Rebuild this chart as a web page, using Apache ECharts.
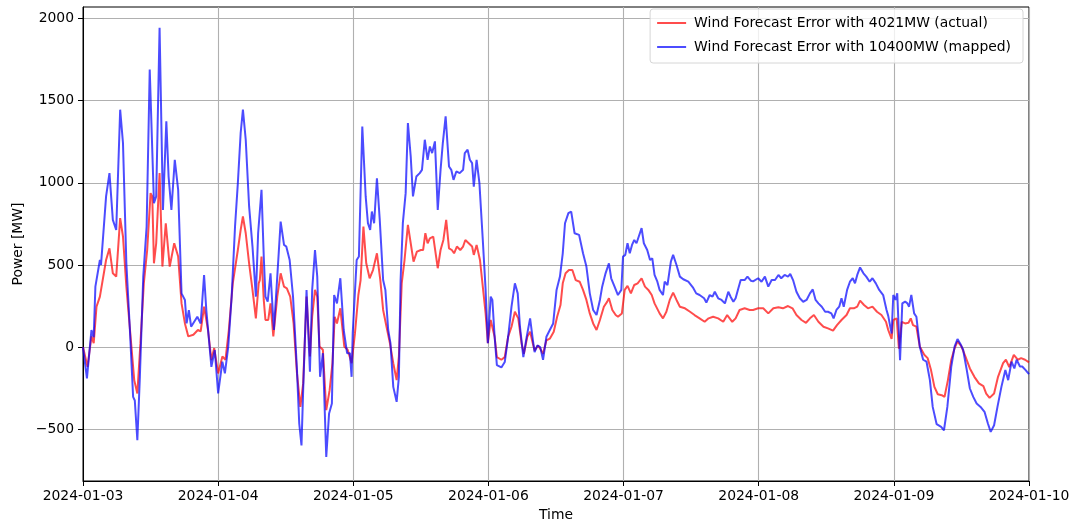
<!DOCTYPE html>
<html>
<head>
<meta charset="utf-8">
<script src="https://cdn.jsdelivr.net/npm/echarts@6/dist/echarts.min.js"></script>
<style>
html,body{margin:0;padding:0;background:#fff;}
#chart{width:1072px;height:521px;}
</style>
</head>
<body>
<div id="chart"></div>
<script>
// Tick labels for the x axis (one per day, every 24 h)
const dayLabels = ['2024-01-03','2024-01-04','2024-01-05','2024-01-06','2024-01-07','2024-01-08','2024-01-09','2024-01-10'];
const yTicks = [-500, 0, 500, 1000, 1500, 2000];

// Wind Forecast Error with 4021MW (actual): hours since 2024-01-03 00:00, MW
const redHours = [0,0.8,1.5,1.9,2.4,3.0,3.2,4.1,4.7,5.3,5.9,6.6,7.1,7.7,8.3,9.1,9.65,10.2,10.8,11.4,12.0,12.3,12.6,13.0,13.6,14.1,14.7,15.4,16.2,16.9,17.5,18.1,18.7,19.6,20.4,20.9,21.5,22.2,22.8,
23.3,24.0,24.75,25.3,25.9,26.6,27.5,28.0,28.4,28.9,29.5,30.1,30.7,31.2,31.4,31.7,32.1,32.4,32.9,33.3,33.8,34.5,35.1,35.7,36.2,36.8,37.4,38.0,38.6,39.1,39.7,40.3,40.7,41.2,41.6,42.0,42.6,43.2,43.8,44.3,44.7,45.1,45.7,46.4,47.0,47.7,
48.3,48.9,49.3,49.8,50.3,50.9,51.5,52.2,52.8,53.3,53.9,54.5,55.1,55.7,56.1,56.6,57.1,57.7,58.2,58.7,59.3,60.0,60.4,60.8,61.2,61.6,62.2,62.5,63.0,63.5,64.0,64.5,65.0,65.5,65.9,66.4,67.0,67.5,67.9,68.5,69.1,69.4,69.9,70.5,71.0,71.5,71.9,72.4,
73.1,73.5,74.3,74.9,75.5,76.1,76.7,77.3,77.9,78.3,78.9,79.4,79.9,80.2,80.8,81.2,81.7,82.3,82.9,83.6,84.2,84.8,85.2,85.7,86.3,86.9,87.5,88.2,88.8,89.4,90.0,90.6,91.2,91.8,92.5,93.1,93.4,94.0,94.6,
95.0,95.7,96.2,96.7,97.3,97.9,98.5,99.2,99.8,100.4,101.0,101.5,102.4,103.0,103.6,104.2,104.8,105.4,106.0,106.9,107.8,108.6,109.5,110.4,111.1,111.9,112.8,113.7,114.4,115.3,115.9,116.6,117.5,118.4,
119.0,119.9,120.8,121.7,122.6,123.5,124.3,125.2,126.0,126.7,127.6,128.4,129.1,129.8,130.6,131.5,132.3,133.2,133.9,134.7,135.6,136.2,136.9,137.5,138.0,138.7,139.4,140.2,141.0,141.8,142.6,
143.0,143.6,143.9,144.5,144.9,145.4,146.0,146.6,147.0,147.4,148.0,148.6,149.4,150.0,150.6,151.2,151.8,152.5,153.0,153.6,154.2,154.8,155.3,156.0,156.7,157.5,158.3,159.1,159.9,160.4,161.0,161.8,162.5,163.4,163.9,164.5,165.3,166.0,166.6,167.3,168.0];
const redMW = [0,-120,65,24,246,307,297,530,601,449,429,785,673,368,124,-201,-282,24,388,591,937,917,510,632,1059,490,754,490,632,551,266,144,65,75,104,95,246,104,-79,
-6,-160,-57,-77,104,388,591,713,795,693,510,348,175,388,408,551,287,165,165,266,65,307,449,368,358,307,144,-160,-364,-221,307,-57,185,348,307,4,-16,-384,-262,-98,185,144,236,4,-16,-98,
85,317,408,734,510,419,469,571,408,226,124,24,-98,-201,-57,388,530,744,632,520,581,591,591,693,632,662,673,673,480,591,652,774,601,591,571,612,591,612,652,632,612,561,622,530,368,205,24,165,
63,-61,-77,-61,63,124,215,175,20,-41,63,93,20,-20,10,-10,-41,41,51,93,185,256,388,449,469,469,408,398,348,287,205,144,104,165,246,277,297,226,195,
185,205,348,373,327,378,388,419,368,348,317,266,205,175,215,287,332,287,246,236,215,195,175,154,175,185,175,154,195,154,175,226,236,226,
226,236,236,205,236,242,236,250,236,195,165,148,175,195,154,124,114,100,134,165,195,236,236,246,283,256,236,246,215,195,154,
104,50,165,175,-10,154,144,148,175,134,124,4,-47,-67,-140,-242,-287,-293,-303,-201,-77,-6,35,4,-57,-130,-181,-221,-238,-283,-309,-283,-181,-98,-77,-122,-47,-77,-67,-77,-93];

// Wind Forecast Error with 10400MW (mapped): hours since 2024-01-03 00:00, MW
const blueHours = [0,0.7,1.5,1.9,2.2,3.0,3.2,4.1,4.7,5.3,5.9,6.6,7.1,7.7,8.3,8.9,9.2,9.65,10.1,10.7,11.3,11.85,12.1,12.6,13.0,13.6,14.2,14.8,15.2,15.7,16.3,16.9,17.5,18.1,18.4,18.8,19.2,20.3,20.9,21.5,21.9,22.8,
23.4,24.0,24.75,25.2,25.8,26.4,27.0,27.5,28.0,28.4,28.9,29.5,30.1,30.7,31.1,31.4,31.7,32.1,32.4,32.8,33.3,33.9,34.5,35.1,35.7,36.1,36.7,37.3,38.0,38.4,38.8,39.1,39.7,40.3,40.7,41.2,41.6,42.1,42.6,43.2,43.7,44.2,44.6,45.1,45.7,46.3,46.9,47.4,47.7,
47.9,48.6,49.0,49.6,50.2,50.6,51.0,51.3,51.7,52.2,52.7,53.3,53.7,54.2,54.6,55.1,55.7,56.1,56.4,56.8,57.3,57.7,58.2,58.6,59.2,59.8,60.2,60.7,61.2,61.6,62.0,62.5,63.0,63.5,63.9,64.4,65.0,65.4,65.8,66.3,66.9,67.5,67.8,68.3,68.7,69.1,69.4,69.9,70.4,71.0,71.5,71.9,72.4,
72.7,73.1,73.5,74.3,74.9,75.5,76.1,76.7,77.2,77.6,78.2,78.8,79.4,79.9,80.2,80.7,81.2,81.7,82.3,82.9,83.5,84.1,84.7,85.2,85.6,86.2,86.7,87.3,88.1,88.8,89.4,90.0,90.6,91.2,91.8,92.2,92.8,93.4,93.8,94.4,95.0,
95.6,95.9,96.3,96.7,97.1,97.5,97.9,98.3,98.7,99.2,99.6,100.2,100.7,101.1,101.5,102.0,102.4,103.0,103.3,103.8,104.4,104.8,105.4,106.0,106.6,107.5,108.3,108.9,109.5,110.3,110.7,111.3,111.8,112.2,112.8,113.4,114.0,114.6,115.0,115.5,115.9,116.3,116.8,117.5,118.0,118.6,
119.0,119.9,120.5,121.1,121.7,122.3,122.9,123.5,124.0,124.6,125.2,125.6,126.1,126.7,127.3,127.9,128.5,129.1,129.6,130.1,130.6,131.2,131.8,132.3,132.9,133.3,133.8,134.3,134.7,135.1,135.7,136.2,136.7,137.1,137.5,138.0,138.6,139.1,139.7,140.2,140.8,141.4,142.1,142.7,
143.0,143.6,143.9,144.3,144.6,145.1,145.5,146.0,146.4,146.7,147.1,147.6,148.0,148.6,149.2,149.8,150.4,150.9,151.6,152.4,152.9,153.5,154.2,154.8,155.3,155.9,156.3,156.9,157.5,158.1,158.7,159.4,160.1,160.7,161.2,161.8,162.4,163.1,163.8,164.3,164.9,165.4,165.8,166.4,166.8,167.4,168.0];
const blueMW = [0,-190,104,60,368,530,500,917,1059,774,713,1445,1242,510,124,-303,-325,-567,-181,429,734,1689,1689,876,917,1943,835,1374,1038,835,1140,957,327,287,144,225,124,185,144,439,225,-120,
-18,-282,-89,-160,4,307,734,998,1303,1445,1262,856,612,307,693,693,957,551,307,277,449,104,429,764,622,612,530,307,-140,-465,-598,-262,348,-150,348,591,429,-181,-37,-669,-404,-343,317,266,419,104,-37,-37,-181,
85,530,551,1343,917,754,713,825,754,1028,774,408,348,104,24,-242,-333,-181,408,754,937,1364,1160,917,1038,1059,1079,1262,1140,1221,1181,1252,835,1079,1242,1404,1099,1079,1018,1069,1059,1079,1181,1201,1140,1120,977,1140,998,652,348,24,307,
287,63,-110,-124,-91,63,246,388,327,124,-61,63,175,41,-30,10,0,-77,63,104,144,348,429,571,754,815,825,693,683,571,490,327,226,195,287,368,449,510,419,368,317,
348,551,561,632,571,622,652,632,673,724,632,591,530,540,439,398,348,317,398,378,520,561,500,429,413,398,364,327,317,297,271,317,307,337,297,287,266,337,307,276,297,348,408,408,429,404,
400,419,398,429,368,408,408,439,419,439,429,445,408,337,297,276,287,327,351,287,266,246,215,215,205,175,226,246,297,246,348,398,419,388,439,485,449,429,398,419,388,348,317,226,
190,83,317,287,327,-80,266,277,266,246,317,205,185,4,-77,-89,-201,-364,-469,-486,-506,-364,-118,4,49,14,-16,-130,-252,-303,-343,-364,-394,-465,-516,-476,-364,-242,-140,-201,-89,-130,-77,-118,-118,-140,-165];

const toPairs = (hs, vs) => hs.map((h, i) => [h, vs[i]]);
const fmtNum = v => (v < 0 ? '\u2212' + Math.abs(v) : String(v));
const FONT = 'DejaVu Sans';

const chart = echarts.init(document.getElementById('chart'), null, {renderer: 'canvas'});
chart.setOption({
  animation: false,
  backgroundColor: '#fff',
  textStyle: {fontFamily: FONT},
  grid: {left: 83, right: 43, top: 7, bottom: 40, containLabel: false, outerBoundsMode: 'none', show: true, borderColor: '#000', borderWidth: 1, backgroundColor: 'transparent'},
  legend: {
    orient: 'vertical',
    right: 49, top: 9,
    icon: 'rect', itemWidth: 29, itemHeight: 2, itemGap: 8,
    padding: [6, 12, 8, 7],
    backgroundColor: 'rgba(255,255,255,0.8)',
    borderColor: '#d6d6d6', borderWidth: 1, borderRadius: 3,
    textStyle: {fontFamily: FONT, fontSize: 13.9, color: '#000', lineHeight: 16, padding: [0, 0, 0, 3]},
    data: ['Wind Forecast Error with 4021MW (actual)', 'Wind Forecast Error with 10400MW (mapped)']
  },
  xAxis: {
    type: 'value', min: 0, max: 168, interval: 24,
    name: 'Time', nameLocation: 'middle', nameGap: 27,
    nameTextStyle: {fontFamily: FONT, fontSize: 13.9, color: '#000'},
    axisLine: {show: true, onZero: false, lineStyle: {color: '#000', width: 1}},
    axisTick: {show: true, inside: false, length: 5, lineStyle: {color: '#000', width: 1}},
    axisLabel: {margin: 8, color: '#000', fontFamily: FONT, fontSize: 13.9, formatter: v => dayLabels[Math.round(v / 24)]},
    splitLine: {show: true, lineStyle: {color: '#b0b0b0', width: 1.1}}
  },
  yAxis: {
    type: 'value', min: -815, max: 2070,
    name: 'Power [MW]', nameLocation: 'middle', nameGap: 56,
    nameTextStyle: {fontFamily: FONT, fontSize: 13.9, color: '#000'},
    axisLine: {show: true, onZero: false, lineStyle: {color: '#000', width: 1}},
    axisTick: {show: true, inside: false, length: 5, customValues: yTicks, lineStyle: {color: '#000', width: 1}},
    axisLabel: {margin: 9, color: '#000', fontFamily: FONT, fontSize: 13.9, customValues: yTicks, formatter: fmtNum},
    splitLine: {show: true, lineStyle: {color: '#b0b0b0', width: 1.1}}
  },
  series: [
    {
      name: 'Wind Forecast Error with 4021MW (actual)', type: 'line',
      data: toPairs(redHours, redMW), symbol: 'none', showSymbol: false,
      lineStyle: {color: 'rgba(255,0,0,0.7)', width: 2}, itemStyle: {color: 'rgba(255,0,0,0.7)'}
    },
    {
      name: 'Wind Forecast Error with 10400MW (mapped)', type: 'line',
      data: toPairs(blueHours, blueMW), symbol: 'none', showSymbol: false,
      lineStyle: {color: 'rgba(0,0,255,0.7)', width: 2}, itemStyle: {color: 'rgba(0,0,255,0.7)'}
    }
  ]
});
</script>
</body>
</html>
